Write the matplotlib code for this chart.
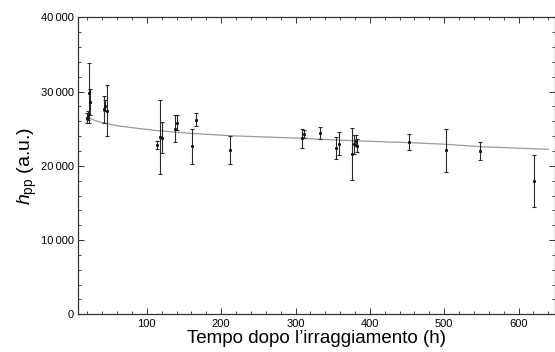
import numpy as np
import matplotlib
matplotlib.use("Agg")
import matplotlib.pyplot as plt
from matplotlib.ticker import MultipleLocator, FuncFormatter

# -------------------------
# DATA
# -------------------------

t_hours = [19, 20.5, 22, 23, 42, 44, 46, 113, 118, 120, 138, 141, 161, 166,
           212, 309, 311, 333, 354, 358, 376, 379, 381, 383, 453, 502, 548, 621]
h_pp = [26400, 26800, 29800, 28600, 27600, 28100, 27400, 22800, 23900, 23800,
        25000, 25800, 22600, 26200, 22150, 23700, 24300, 24400, 22400, 23000,
        21600, 22900, 23400, 22700, 23200, 22100, 22000, 18000]
h_err = [700, 600, 4100, 1800, 1850, 700, 3450, 550, 5000, 2100, 1800, 1000,
         2350, 900, 1850, 1300, 500, 850, 1500, 1550, 3500, 1300, 700, 900,
         1100, 2900, 1250, 3500]

# fitted curve
fit_t = [21, 30, 44, 60, 87, 118, 158, 212, 309, 333, 378, 427, 453, 502, 549, 640]
fit_h = [26530, 26100, 25720, 25400, 25050, 24690, 24380, 24050, 23700, 23570,
         23380, 23200, 23120, 22900, 22570, 22220]

# -------------------------
# STYLE
# -------------------------

plt.rcParams['font.family'] = ['Liberation Sans', 'DejaVu Sans']
plt.rcParams['mathtext.fontset'] = 'custom'
plt.rcParams['mathtext.rm'] = 'Liberation Sans'
plt.rcParams['mathtext.it'] = 'Liberation Sans:italic'

fig = plt.figure(figsize=(5.55, 3.52), dpi=100)
ax = fig.add_axes([0.140, 0.107, 0.860, 0.844])

ax.plot(fit_t, fit_h, '-', color='#9a9a9a', lw=0.9, zorder=2)
ax.errorbar(t_hours, h_pp, yerr=h_err, fmt='s', ms=1.1, color='#111111',
            ecolor='#2a2a2a', elinewidth=0.8, capsize=1.5, capthick=0.8, zorder=3)

ax.set_xlim(7, 649)
ax.set_ylim(0, 40000)

ax.xaxis.set_major_locator(MultipleLocator(100))
ax.xaxis.set_minor_locator(MultipleLocator(20))
ax.yaxis.set_major_locator(MultipleLocator(10000))
ax.yaxis.set_minor_locator(MultipleLocator(2000))
ax.yaxis.set_major_formatter(FuncFormatter(
    lambda v, p: f"{v:,.0f}".replace(',', '\u2009')))

ax.tick_params(which='both', direction='in', top=True, right=True,
               color='#333333', labelsize=8, pad=3)
ax.tick_params(which='major', length=4, width=0.7)
ax.tick_params(which='minor', length=2, width=0.6)

for s in ax.spines.values():
    s.set_linewidth(0.9)
    s.set_color('#333333')

ax.set_xlabel("Tempo dopo l\u2019irraggiamento (h)", fontsize=13.5, labelpad=1)
ax.set_ylabel(r"$h_{\mathrm{pp}}$ (a.u.)", fontsize=14, labelpad=1)

fig.savefig("out.png", dpi=100)
